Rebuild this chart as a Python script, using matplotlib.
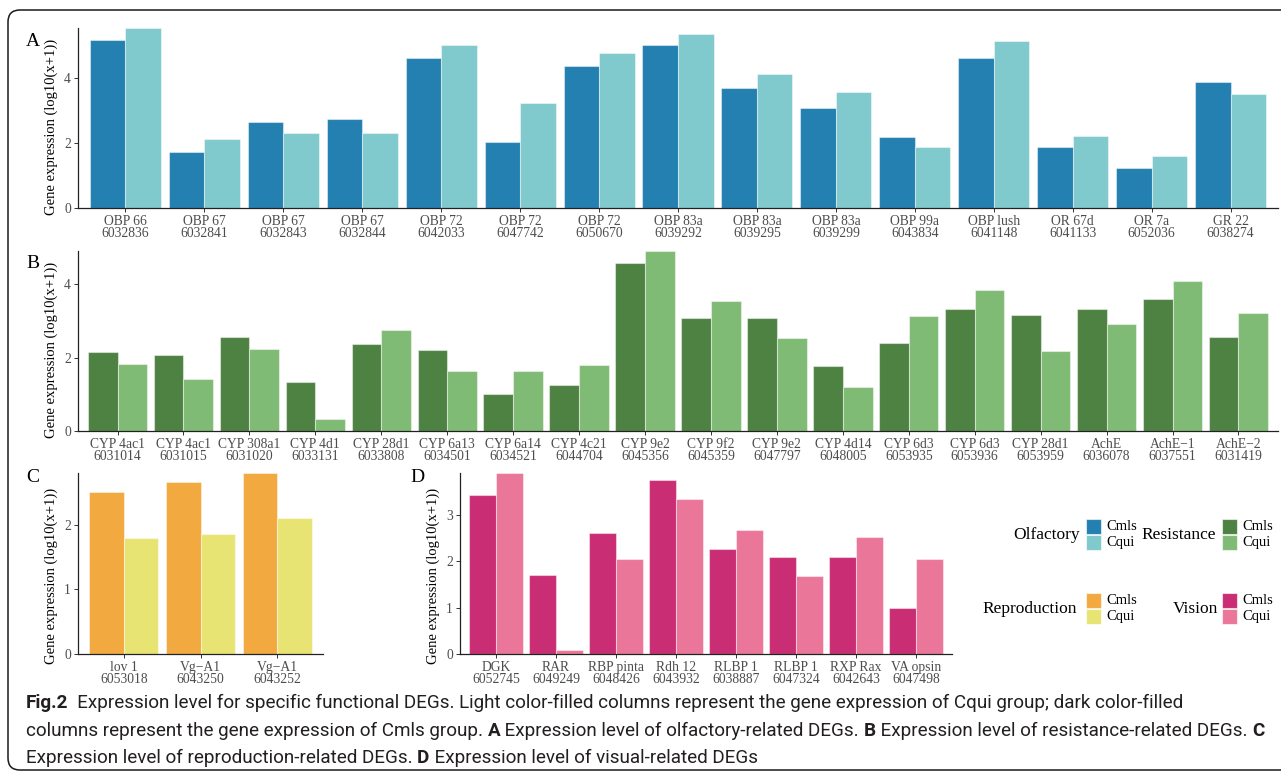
import numpy as np
import matplotlib
matplotlib.use("Agg")
import matplotlib.pyplot as plt
from matplotlib.patches import Rectangle, FancyBboxPatch

plt.rcParams['font.family'] = ['Liberation Serif', 'DejaVu Serif']

W, H = 1281, 776

# ---- data ----
olf_genes = ["OBP 66", "OBP 67", "OBP 67", "OBP 67", "OBP 72", "OBP 72", "OBP 72",
             "OBP 83a", "OBP 83a", "OBP 83a", "OBP 99a", "OBP lush", "OR 67d", "OR 7a", "GR 22"]
olf_ids = ["6032836", "6032841", "6032843", "6032844", "6042033", "6047742", "6050670",
           "6039292", "6039295", "6039299", "6043834", "6041148", "6041133", "6052036", "6038274"]
olf_cmls = [5.16, 1.71, 2.66, 2.73, 4.62, 2.02, 4.36, 5.03, 3.68, 3.09, 2.19, 4.63, 1.87, 1.23, 3.87]
olf_cqui = [5.54, 2.12, 2.30, 2.32, 5.03, 3.24, 4.77, 5.37, 4.11, 3.56, 1.87, 5.13, 2.22, 1.61, 3.51]

res_genes = ["CYP 4ac1", "CYP 4ac1", "CYP 308a1", "CYP 4d1", "CYP 28d1", "CYP 6a13", "CYP 6a14",
             "CYP 4c21", "CYP 9e2", "CYP 9f2", "CYP 9e2", "CYP 4d14", "CYP 6d3", "CYP 6d3",
             "CYP 28d1", "AchE", "AchE\u22121", "AchE\u22122"]
res_ids = ["6031014", "6031015", "6031020", "6033131", "6033808", "6034501", "6034521", "6044704",
           "6045356", "6045359", "6047797", "6048005", "6053935", "6053936", "6053959", "6036078",
           "6037551", "6031419"]
res_cmls = [2.16, 2.07, 2.57, 1.33, 2.38, 2.20, 1.02, 1.26, 4.56, 3.07, 3.07, 1.77, 2.40, 3.33,
            3.17, 3.32, 3.60, 2.55]
res_cqui = [1.83, 1.41, 2.24, 0.33, 2.74, 1.64, 1.64, 1.80, 4.90, 3.55, 2.52, 1.19, 3.13, 3.83,
            2.19, 2.91, 4.08, 3.22]

rep_genes = ["lov 1", "Vg\u2212A1", "Vg\u2212A1"]
rep_ids = ["6053018", "6043250", "6043252"]
rep_cmls = [2.51, 2.66, 2.80]
rep_cqui = [1.80, 1.85, 2.11]

vis_genes = ["DGK", "RAR", "RBP pinta", "Rdh 12", "RLBP 1", "RLBP 1", "RXP Rax", "VA opsin"]
vis_ids = ["6052745", "6049249", "6048426", "6043932", "6038887", "6047324", "6042643", "6047498"]
vis_cmls = [3.42, 1.71, 2.60, 3.74, 2.27, 2.08, 2.08, 0.99]
vis_cqui = [3.90, 0.09, 2.04, 3.34, 2.68, 1.69, 2.52, 2.05]

groups = ["Olfactory", "Resistance", "Reproduction", "Vision"]
colors = {
    "Olfactory": ("#2380B0", "#80C9CD"),
    "Resistance": ("#4E8243", "#80BB75"),
    "Reproduction": ("#F2A93F", "#E8E474"),
    "Vision": ("#C92D73", "#EA7699"),
}

fig = plt.figure(figsize=(W / 100, H / 100), dpi=100)


def px_axes(x0, y0, x1, y1):
    return fig.add_axes([x0 / W, 1 - y1 / H, (x1 - x0) / W, (y1 - y0) / H])


def bar_panel(ax, genes, ids, cmls, cqui, cols, step):
    n = len(genes)
    x = np.arange(1, n + 1)
    ax.bar(x - 0.225, cmls, width=0.45, color=cols[0], edgecolor=(1, 1, 1, 0.45), linewidth=0.8)
    ax.bar(x + 0.225, cqui, width=0.45, color=cols[1], edgecolor=(1, 1, 1, 0.45), linewidth=0.8)
    ax.set_xlim(0.4, n + 0.6)
    ax.set_ylim(0, max(max(cmls), max(cqui)))
    ax.set_xticks(x)
    ax.set_xticklabels([g + "\n" + i for g, i in zip(genes, ids)], linespacing=0.95)
    yt = np.arange(0, ax.get_ylim()[1] + 0.01, step)
    ax.set_yticks(yt)
    ax.set_yticklabels([str(int(v)) for v in yt])
    for s in ["top", "right"]:
        ax.spines[s].set_visible(False)
    for s in ["left", "bottom"]:
        ax.spines[s].set_color("#222222")
        ax.spines[s].set_linewidth(0.9)
    ax.tick_params(length=3, width=0.7, color="#333333", labelcolor="#4D4D4D",
                   labelsize=9.8, pad=2)


axA = px_axes(78, 28, 1278, 208)
bar_panel(axA, olf_genes, olf_ids, olf_cmls, olf_cqui, colors["Olfactory"], 2)
axB = px_axes(78, 251, 1278, 431)
bar_panel(axB, res_genes, res_ids, res_cmls, res_cqui, colors["Resistance"], 2)
axC = px_axes(78, 473, 323, 654)
bar_panel(axC, rep_genes, rep_ids, rep_cmls, rep_cqui, colors["Reproduction"], 1)
axD = px_axes(460, 473, 952, 654)
bar_panel(axD, vis_genes, vis_ids, vis_cmls, vis_cqui, colors["Vision"], 1)

# overlay in pixel coordinates for labels, legend, border, caption
ov = fig.add_axes([0, 0, 1, 1], zorder=-1)
ov.set_xlim(0, W)
ov.set_ylim(H, 0)
ov.axis("off")
ov2 = fig.add_axes([0, 0, 1, 1], zorder=5)
ov2.set_xlim(0, W)
ov2.set_ylim(H, 0)
ov2.axis("off")
ov2.patch.set_alpha(0)

ylab = "Gene expression (log10(x+1))"
for x, yc in [(51, 127), (51, 350), (51, 576), (433, 576)]:
    ov2.text(x, yc, ylab, rotation=90, ha="center", va="center", fontsize=10.5, color="black")

for lab, x, y in [("A", 33, 41), ("B", 33, 263), ("C", 33, 477), ("D", 417, 477)]:
    ov2.text(x, y, lab, ha="center", va="center", fontsize=14, color="black")

# legend blocks
leg_pos = {
    "Olfactory": (1080, 1086, 519),
    "Resistance": (1216, 1222, 519),
    "Reproduction": (1077, 1086, 593),
    "Vision": (1218, 1222, 593),
}
for g in groups:
    tx, kx, ky = leg_pos[g]
    ov2.text(tx, ky + 16, g, ha="right", va="center", fontsize=12.5, color="black")
    for k, (lab, c) in enumerate(zip(["Cmls", "Cqui"], colors[g])):
        ov2.add_patch(Rectangle((kx, ky + k * 16), 15, 15, facecolor=c,
                                edgecolor=(1, 1, 1, 0.6), linewidth=0.8))
        ov2.text(kx + 20, ky + k * 16 + 7.5, lab, ha="left", va="center", fontsize=10.5,
                 color="black")

# border
ov.add_patch(FancyBboxPatch((8, 10), 1300, 760, boxstyle="round,pad=0,rounding_size=12",
                            facecolor="white", edgecolor="#1a1a1a", linewidth=1.1))

# caption
cap_font = ['Roboto', 'DejaVu Sans']
cap_lines = [
    [("Fig.2", True), ("  Expression level for specific functional DEGs. Light color-filled columns "
                       "represent the gene expression of Cqui group; dark color-filled", False)],
    [("columns represent the gene expression of Cmls group. ", False), ("A", True),
     (" Expression level of olfactory-related DEGs. ", False), ("B", True),
     (" Expression level of resistance-related DEGs. ", False), ("C", True)],
    [("Expression level of reproduction-related DEGs. ", False), ("D", True),
     (" Expression level of visual-related DEGs", False)],
]
cap_y = [703, 731, 758]
renderer = fig.canvas.get_renderer()


def draw_line(line, y, size):
    x = 26
    arts = []
    for txt, bold in line:
        t = ov2.text(x, y, txt, ha="left", va="center", fontsize=size,
                     family=cap_font, fontweight="bold" if bold else "normal", color="#231F20")
        x += t.get_window_extent(renderer).width
        arts.append(t)
    return x, arts


# fit caption size so that the second line ends where it does in the figure
end, arts = draw_line(cap_lines[1], cap_y[1], 13)
for a in arts:
    a.remove()
cap_size = 13 * (1270 - 26) / (end - 26)
for line, y in zip(cap_lines, cap_y):
    draw_line(line, y, cap_size)

fig.savefig("out.png", dpi=100)
